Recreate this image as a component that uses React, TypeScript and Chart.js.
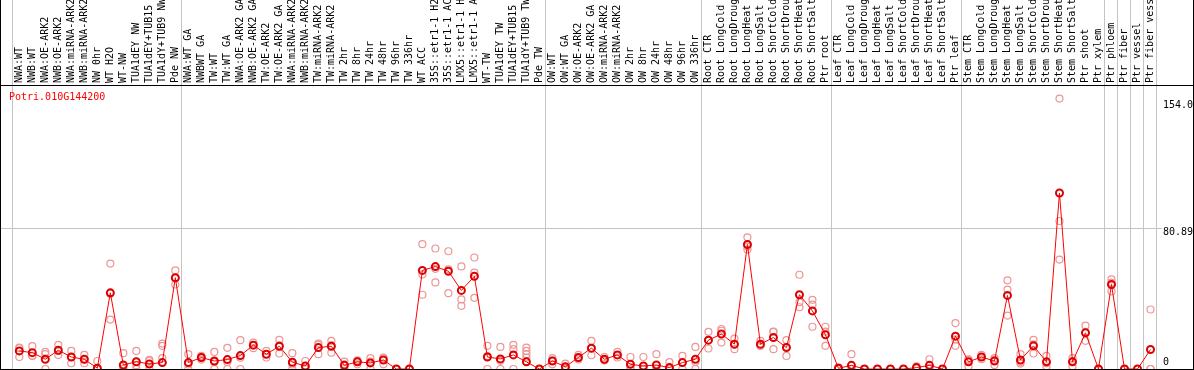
import React, { useEffect, useRef } from 'react';
import { Chart, registerables } from 'chart.js';

Chart.register(...registerables);

const FONT = '"DejaVu Sans Mono", "Liberation Mono", monospace';

const geneTitle = 'Potri.010G144200';

const categories = [
  'NWA:WT', 'NWB:WT', 'NWA:OE-ARK2', 'NWB:OE-ARK2', 'NWA:miRNA-ARK2', 'NWB:miRNA-ARK2', 'NW 0hr', 'WT H2O', 'WT-NW',
  'TUA1dEY NW', 'TUA1dEY+TUB15 NW', 'TUA1dY+TUB9 NW', 'Pde NW',
  'NWA:WT GA', 'NWBWT GA', 'TW:WT', 'TW:WT GA', 'NWA:OE-ARK2 GA', 'NWB:OE-ARK2 GA', 'TW:OE-ARK2', 'TW:OE-ARK2 GA',
  'NWA:miRNA-ARK2', 'NWB:miRNA-ARK2', 'TW:miRNA-ARK2', 'TW:miRNA-ARK2', 'TW 2hr', 'TW 8hr', 'TW 24hr', 'TW 48hr',
  'TW 96hr', 'TW 336hr', 'WT ACC', '35S::etr1-1 H2O', '35S::etr1-1 ACC', 'LMX5::etr1-1 H2O', 'LMX5::etr1-1 ACC',
  'WT-TW', 'TUA1dEY TW', 'TUA1dEY+TUB15 TW', 'TUA1dY+TUB9 TW', 'Pde TW',
  'OW:WT', 'OW:WT GA', 'OW:OE-ARK2', 'OW:OE-ARK2 GA', 'OW:miRNA-ARK2', 'OW:miRNA-ARK2', 'OW 2hr', 'OW 8hr',
  'OW 24hr', 'OW 48hr', 'OW 96hr', 'OW 336hr',
  'Root CTR', 'Root LongCold', 'Root LongDrought', 'Root LongHeat', 'Root LongSalt', 'Root ShortCold',
  'Root ShortDrought', 'Root ShortHeat', 'Root ShortSalt', 'Ptr root',
  'Leaf CTR', 'Leaf LongCold', 'Leaf LongDrought', 'Leaf LongHeat', 'Leaf LongSalt', 'Leaf ShortCold',
  'Leaf ShortDrought', 'Leaf ShortHeat', 'Leaf ShortSalt', 'Ptr leaf',
  'Stem CTR', 'Stem LongCold', 'Stem LongDrought', 'Stem LongHeat', 'Stem LongSalt', 'Stem ShortCold',
  'Stem ShortDrought', 'Stem ShortHeat', 'Stem ShortSalt', 'Ptr shoot', 'Ptr xylem',
  'Ptr phloem', 'Ptr fiber', 'Ptr vessel', 'Ptr fiber vessel',
];

// index of the first category of each sample group (last entry = end)
const groupStarts = [0, 13, 41, 53, 63, 73, 84, 85, 86, 87, 88];

const meanValues = [
  10.4, 9.4, 5.6, 10.8, 6.9, 5.6, 0.5, 43.8, 2.3, 4.2, 2.9, 3.7, 52.5,
  3.7, 6.6, 4.6, 5.4, 7.7, 13.7, 8.5, 13.1, 3.9, 1.7, 12.3, 13.1, 2.1, 4.1, 3.5, 5.2, 0, 0,
  56.7, 58.9, 56.2, 45.2, 53.3, 6.9, 5.8, 8.1, 4.1, 0,
  4.6, 1.3, 6.6, 12.0, 5.6, 8.1, 2.7, 1.7, 2.3, 0.8, 3.7, 5.6,
  16.6, 20.1, 14.3, 71.6, 14.3, 18.1, 12.3, 42.7, 33.4, 19.7,
  0.4, 2.1, 0, 0, 0, 0, 0.8, 2.1, 0, 18.9,
  4.1, 6.9, 4.6, 42.3, 5.2, 13.3, 4.1, 101.2, 4.1, 20.8, 0,
  48.6, 0, 0, 11.2,
];

const replicateA = [
  12.3, 13.1, 9.8, 13.9, 10.4, 8.1, 4.6, 60.6, 9.1, 10.4, 5.2, 14.6, 56.7,
  8.5, 7.5, 9.8, 12.2, 16.6, 15.2, 10.4, 16.8, 9.1, 4.6, 14.6, 16.2, 4.2, 4.6, 6.2, 6.6, 0, 0,
  71.8, 69.3, 67.7, 59.0, 64.1, 13.3, 12.7, 13.9, 12.3, 0,
  6.2, 3.1, 8.1, 16.2, 6.9, 9.8, 6.9, 6.9, 8.5, 3.9, 7.5, 12.7,
  21.4, 23.0, 17.5, 75.7, 16.2, 21.4, 16.6, 54.2, 39.8, 24.3,
  1.0, 8.5, 0, 0, 0, 0, 1.5, 5.6, 0, 26.4,
  5.6, 8.1, 6.2, 51.0, 8.5, 16.8, 7.5, 155.5, 6.2, 24.9, 0,
  51.5, 0, 0, 34.2,
];

const replicateB = [
  12.0, 7.6, 8.5, 10.4, 7.0, 5.4, 0, 43.3, 0, 2.2, 4.6, 13.3, 48.6,
  2.6, 6.9, 4.0, 4.0, 6.5, 13.9, 8.5, 13.6, 2.6, 0.5, 13.8, 13.7, 2.7, 5.0, 4.3, 6.3, 0, 0,
  54.4, 57.6, 57.3, 40.0, 55.4, 7.4, 4.7, 11.4, 10.4, 0,
  5.0, 0.8, 6.2, 12.0, 5.0, 8.0, 1.2, 0, 0, 0, 3.6, 4.1,
  16.6, 22.0, 14.0, 70.4, 13.4, 21.5, 12.8, 38.4, 37.0, 21.5,
  0, 0, 0, 0, 0, 0, 0.5, 0.5, 0, 17.0,
  5.2, 7.0, 5.3, 45.6, 4.0, 14.2, 3.3, 85.1, 4.6, 21.3, 0,
  49.7, 0, 0, 0,
];

const replicateC = [
  6.9, 7.5, 0, 8.1, 3.3, 3.3, 0, 28.4, 0, 0, 0, 6.2, 52.2,
  0, 5.4, 0, 0, 0, 12.0, 6.6, 8.9, 0, 0, 8.5, 9.4, 0, 2.7, 0, 2.7, 0, 0,
  42.7, 49.8, 43.6, 36.3, 40.9, 0, 0, 0, 8.5, 0,
  2.7, 0, 5.5, 7.9, 5.0, 6.6, 0, 0, 0, 0, 0, 0,
  11.8, 15.2, 11.4, 68.7, 13.3, 11.4, 7.5, 35.5, 24.3, 13.3,
  0, 0, 0, 0, 0, 0, 0.5, 0.3, 0, 13.3,
  1.5, 5.6, 2.3, 30.7, 3.1, 8.9, 1.5, 62.9, 1.5, 16.2, 0,
  44.6, 0, 0, 0,
];

// extra replicates for categories that have more than three
const extraReplicates = [{ index: 39, value: 6.6 }];

const yTickValues = [0, 80.89, 154.0];
const yTickLabels = ['0', '80.89', '154.0'];
const yGridValue = 80.89;
const yMax = 163.3;

const GRID = '#c4c4c4';

const headerLine = {
  id: 'headerLine',
  beforeDatasetsDraw(chart: any) {
    const { ctx, chartArea, width } = chart;
    const y = Math.round(chartArea.top) + 0.5;
    ctx.save();
    ctx.strokeStyle = '#000';
    ctx.lineWidth = 1;
    ctx.beginPath();
    ctx.moveTo(0, y);
    ctx.lineTo(width, y);
    ctx.stroke();
    ctx.restore();
  },
};

const noPad = (s: any) => {
  s.paddingTop = 0;
  s.paddingBottom = 0;
  s.paddingLeft = 0;
  s.paddingRight = 0;
};

export default function App() {
  const ref = useRef<HTMLCanvasElement>(null);

  useEffect(() => {
    const extra: (number | null)[] = categories.map(() => null);
    extraReplicates.forEach((e) => {
      extra[e.index] = e.value;
    });

    const repStyle = {
      showLine: false,
      pointStyle: 'circle',
      pointRadius: 3.5,
      pointBorderWidth: 1.2,
      pointBorderColor: '#ee9696',
      pointBackgroundColor: 'rgba(0,0,0,0)',
      borderColor: '#ee9696',
      clip: false as any,
    };

    const chart = new Chart(ref.current as HTMLCanvasElement, {
      type: 'line',
      data: {
        labels: categories,
        datasets: [
          {
            label: 'mean',
            data: meanValues,
            borderColor: '#ff0000',
            borderWidth: 1,
            tension: 0,
            pointStyle: 'circle',
            pointRadius: 3.5,
            pointBorderWidth: 2,
            pointBorderColor: '#dd0000',
            pointBackgroundColor: 'rgba(0,0,0,0)',
            clip: false as any,
          },
          { label: 'rep A', data: replicateA, ...repStyle },
          { label: 'rep B', data: replicateB, ...repStyle },
          { label: 'rep C', data: replicateC, ...repStyle },
          { label: 'rep D', data: extra, ...repStyle },
        ] as any,
      },
      options: {
        animation: false,
        responsive: true,
        maintainAspectRatio: false,
        layout: { padding: 0, autoPadding: false },
        plugins: {
          legend: { display: false },
          tooltip: { enabled: false },
        },
        scales: {
          x: {
            type: 'category',
            position: 'top',
            offset: true,
            grid: {
              offset: true,
              drawTicks: true,
              tickLength: 85,
              lineWidth: 1,
              color: (c: any) => {
                if (c.type !== 'tick') return GRID;
                return groupStarts.includes(c.index) ? GRID : 'rgba(0,0,0,0)';
              },
            },
            border: { display: true, color: '#000', width: 1 },
            ticks: {
              autoSkip: false,
              minRotation: 90,
              maxRotation: 90,
              padding: -83,
              labelOffset: 10,
              color: '#000',
              font: { family: FONT, size: 10, lineHeight: 1 },
            },
            afterFit: (s: any) => {
              s.height = 85;
              noPad(s);
            },
          },
          y: {
            position: 'right',
            min: 0,
            max: yMax,
            afterBuildTicks: (s: any) => {
              s.ticks = yTickValues.map((v) => ({ value: v }));
            },
            grid: {
              drawTicks: true,
              tickLength: 5,
              color: (c: any) => (c.tick && c.tick.value === yGridValue ? GRID : 'rgba(0,0,0,0)'),
            },
            border: { display: false },
            ticks: {
              padding: 1,
              labelOffset: -1,
              color: '#000',
              font: { family: FONT, size: 10, lineHeight: 1.1 },
              callback: (_v: any, i: number) => (yTickValues[i] === 0 ? [yTickLabels[i], ''] : ['', yTickLabels[i]]),
            },
            afterFit: (s: any) => {
              s.width = 36;
              noPad(s);
            },
          },
          yL: {
            position: 'left',
            min: 0,
            max: yMax,
            afterBuildTicks: (s: any) => {
              s.ticks = [{ value: yGridValue }];
            },
            grid: { drawOnChartArea: false, drawTicks: true, tickLength: 12, color: GRID },
            border: { display: false },
            ticks: { display: false },
            afterFit: (s: any) => {
              s.width = 11.8;
              noPad(s);
            },
          },
        } as any,
      },
      plugins: [headerLine],
    });
    return () => chart.destroy();
  }, []);

  return (
    <div
      style={{
        position: 'fixed',
        left: 0,
        top: 0,
        width: 1194,
        height: 370,
        boxSizing: 'border-box',
        borderLeft: '1px solid #000',
        borderRight: '1px solid #000',
        borderBottom: '1px solid #000',
        background: '#fff',
      }}
    >
      <div style={{ position: 'relative', width: 1192, height: 369 }}>
        <canvas ref={ref} />
        <div
          style={{
            position: 'absolute',
            left: 8,
            top: 91,
            font: `10px ${FONT}`,
            lineHeight: '12px',
            color: '#ff0000',
            pointerEvents: 'none',
          }}
        >
          {geneTitle}
        </div>
      </div>
    </div>
  );
}
